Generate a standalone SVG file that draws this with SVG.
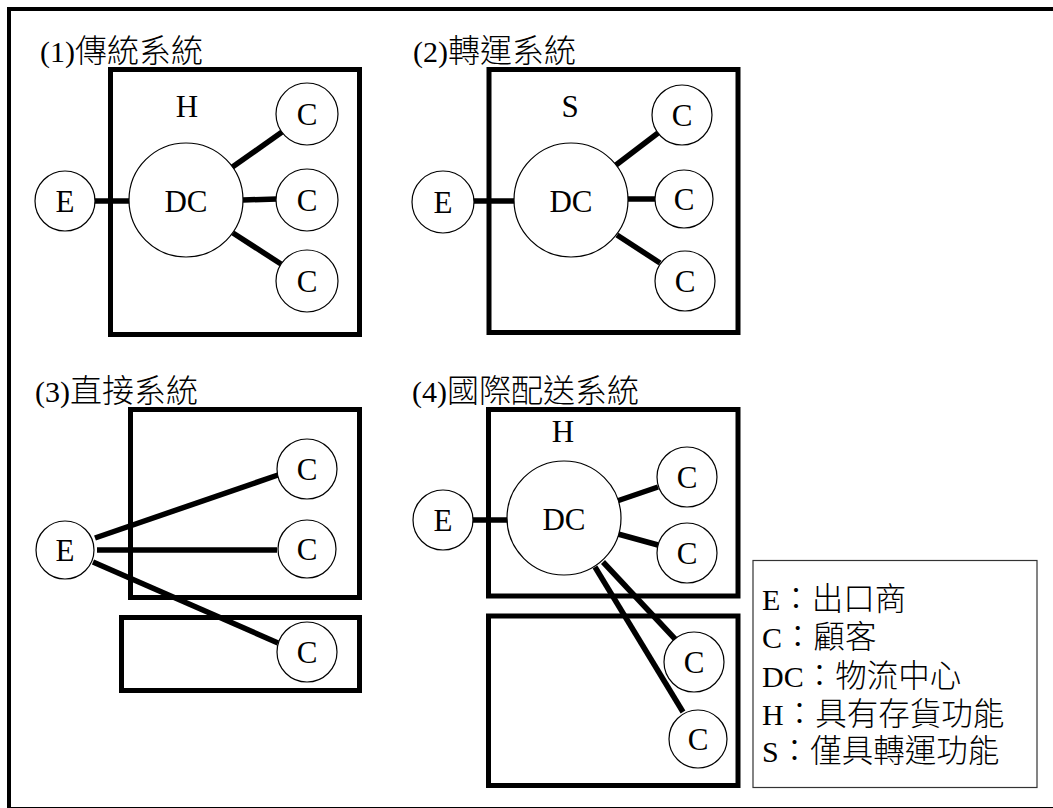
<svg xmlns="http://www.w3.org/2000/svg" width="1053" height="808" viewBox="0 0 1053 808">
<style>
text{font-family:"Liberation Serif","Noto Sans CJK TC",serif;fill:#000}
.t{font-size:30px}
.n{font-size:31px;text-anchor:middle}
.lg{font-size:30px}
.cj{font-size:32px;font-weight:300}
.cl{font-size:31.5px;font-weight:300}
.box{fill:none;stroke:#000;stroke-width:5}
.nd{fill:#fff;stroke:#000;stroke-width:1.2}
.ln{stroke:#000;stroke-width:5.5;fill:none}
</style>
<rect x="0" y="0" width="1053" height="808" fill="#fff"/>
<rect x="9" y="9" width="1070" height="800" fill="none" stroke="#000" stroke-width="4"/>
<g id="titles">
<text class="t" x="40" y="62">(1)<tspan class="cj">傳統系統</tspan></text>
<text class="t" x="413" y="62">(2)<tspan class="cj">轉運系統</tspan></text>
<text class="t" x="35" y="402">(3)<tspan class="cj">直接系統</tspan></text>
<text class="t" x="412" y="402">(4)<tspan class="cj">國際配送系統</tspan></text>
</g>
<g id="frames">
<rect class="box" x="110.5" y="69.5" width="249" height="265"/>
<rect class="box" x="489" y="69.5" width="249" height="263"/>
<rect class="box" x="130.5" y="409.5" width="229" height="188"/>
<rect class="box" x="121.5" y="617.5" width="238" height="73"/>
<rect class="box" x="488.5" y="409.5" width="249.5" height="186.5"/>
<rect class="box" x="488.5" y="616" width="249.5" height="169.5"/>
</g>
<g id="frame-labels">
<text class="n" x="187" y="117">H</text>
<text class="n" x="570" y="117">S</text>
<text class="n" x="563" y="442">H</text>
</g>
<g id="connectors">
<line class="ln" x1="94" y1="201" x2="130" y2="201"/>
<line class="ln" x1="231" y1="168" x2="282" y2="132"/>
<line class="ln" x1="243" y1="200" x2="277" y2="199"/>
<line class="ln" x1="233" y1="233" x2="281" y2="264"/>
<line class="ln" x1="473" y1="201" x2="515" y2="201"/>
<line class="ln" x1="616" y1="165" x2="658" y2="133"/>
<line class="ln" x1="628" y1="199" x2="655" y2="199"/>
<line class="ln" x1="617" y1="235" x2="660" y2="263"/>
<line class="ln" x1="95" y1="538" x2="278" y2="475"/>
<line class="ln" x1="97" y1="550" x2="277" y2="550"/>
<line class="ln" x1="93" y1="562" x2="278" y2="643"/>
<line class="ln" x1="472" y1="520" x2="508" y2="520"/>
<line class="ln" x1="617" y1="501" x2="658" y2="487"/>
<line class="ln" x1="618" y1="534" x2="658" y2="545"/>
<line class="ln" x1="603" y1="562" x2="676" y2="640"/>
<line class="ln" x1="595" y1="567" x2="683" y2="712"/>
</g>
<g id="p1-E"><circle class="nd" cx="65" cy="201" r="30"/><text class="n" x="65" y="212">E</text></g>
<g id="p1-DC"><circle class="nd" cx="186" cy="200" r="57"/><text class="n" x="186" y="212">DC</text></g>
<g id="p1-C1"><circle class="nd" cx="307" cy="114" r="31"/><text class="n" x="307" y="125">C</text></g>
<g id="p1-C2"><circle class="nd" cx="307" cy="200" r="31"/><text class="n" x="307" y="211">C</text></g>
<g id="p1-C3"><circle class="nd" cx="307" cy="281" r="31"/><text class="n" x="307" y="292">C</text></g>
<g id="p2-E"><circle class="nd" cx="443" cy="202" r="31"/><text class="n" x="443" y="213">E</text></g>
<g id="p2-DC"><circle class="nd" cx="571" cy="200" r="57"/><text class="n" x="571" y="212">DC</text></g>
<g id="p2-C1"><circle class="nd" cx="682" cy="115" r="30"/><text class="n" x="682" y="126">C</text></g>
<g id="p2-C2"><circle class="nd" cx="684" cy="199" r="29"/><text class="n" x="684" y="210">C</text></g>
<g id="p2-C3"><circle class="nd" cx="685" cy="281" r="30"/><text class="n" x="685" y="292">C</text></g>
<g id="p3-E"><circle class="nd" cx="65" cy="550" r="29"/><text class="n" x="65" y="561">E</text></g>
<g id="p3-C1"><circle class="nd" cx="307" cy="469" r="30"/><text class="n" x="307" y="480">C</text></g>
<g id="p3-C2"><circle class="nd" cx="307" cy="549" r="29"/><text class="n" x="307" y="560">C</text></g>
<g id="p3-C3"><circle class="nd" cx="307" cy="652" r="30"/><text class="n" x="307" y="663">C</text></g>
<g id="p4-E"><circle class="nd" cx="443" cy="520" r="30"/><text class="n" x="443" y="531">E</text></g>
<g id="p4-DC"><circle class="nd" cx="564" cy="518" r="57"/><text class="n" x="564" y="530">DC</text></g>
<g id="p4-C1"><circle class="nd" cx="687" cy="477" r="30"/><text class="n" x="687" y="488">C</text></g>
<g id="p4-C2"><circle class="nd" cx="687" cy="553" r="30"/><text class="n" x="687" y="564">C</text></g>
<g id="p4-C3"><circle class="nd" cx="694" cy="662" r="30"/><text class="n" x="694" y="673">C</text></g>
<g id="p4-C4"><circle class="nd" cx="698" cy="739" r="29"/><text class="n" x="698" y="750">C</text></g>
<g id="legend">
<rect x="753" y="560.5" width="284" height="227" fill="#fff" stroke="#333" stroke-width="1.2"/>
<text class="lg" x="762" y="610">E<tspan class="cl">：出口商</tspan></text>
<text class="lg" x="762" y="648">C<tspan class="cl">：顧客</tspan></text>
<text class="lg" x="762" y="687">DC<tspan class="cl">：物流中心</tspan></text>
<text class="lg" x="762" y="725">H<tspan class="cl">：具有存貨功能</tspan></text>
<text class="lg" x="762" y="762">S<tspan class="cl">：僅具轉運功能</tspan></text>
</g>
</svg>
